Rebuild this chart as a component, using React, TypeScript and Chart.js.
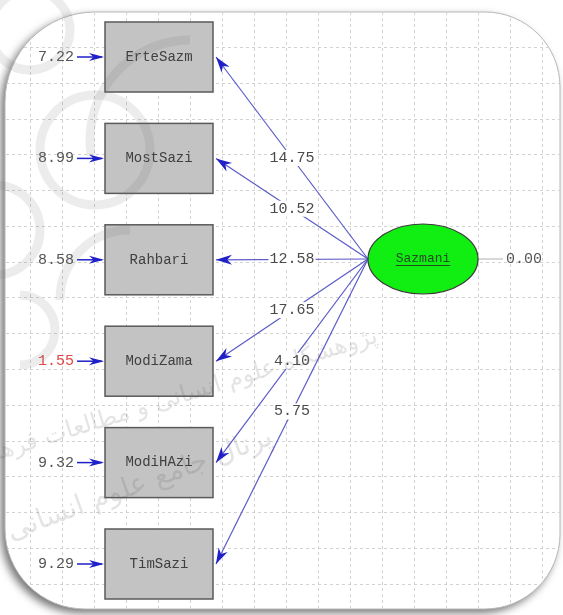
import React, { useEffect, useRef } from "react";
import { Chart, registerables } from "chart.js";
Chart.register(...registerables);

// ---- data ----
const indicators = ["ErteSazm", "MostSazi", "Rahbari", "ModiZama", "ModiHAzi", "TimSazi"];
const loadings = [14.75, 10.52, 12.58, 17.65, 4.1, 5.75];
const errorVariances = [7.22, 8.99, 8.58, 1.55, 9.32, 9.29];
const flaggedErrors = [false, false, false, true, false, false];
const latentName = "Sazmani";
const latentVariance = 0.0;
const gridX = [30, 62, 94, 126, 158, 190, 222, 254, 286, 318, 350, 382, 414, 446, 478, 510, 542];
const gridY = [47, 83, 119, 154, 190, 226, 262, 297, 333, 369, 405, 441, 476, 512, 548, 584];
const watermarkLines = ["پژوهشگاه علوم انسانی و مطالعات فرهنگی", "پرتال جامع علوم انسانی"];

// ---- layout ----
const W = 563;
const H = 615;
const BOX = { cx: 159, w: 108, h: 70 };
const ROW0 = 57;
const ROWSTEP = 101.4;
const ELL = { cx: 423, cy: 259, rx: 55, ry: 35 };
const TIP_X = BOX.cx + BOX.w / 2 + 3;
const rowY = (i: number) => ROW0 + i * ROWSTEP;
const MONO = "'Liberation Mono', 'DejaVu Sans Mono', monospace";

function arrowHead(ctx: CanvasRenderingContext2D, fx: number, fy: number, tx: number, ty: number, len: number, hw: number, color: string) {
  const a = Math.atan2(ty - fy, tx - fx);
  const cx = Math.cos(a), sy = Math.sin(a);
  const bx = tx - len * cx, by = ty - len * sy;
  const mx = tx - len * 0.7 * cx, my = ty - len * 0.7 * sy;
  ctx.save();
  ctx.fillStyle = color;
  ctx.beginPath();
  ctx.moveTo(tx, ty);
  ctx.lineTo(bx - hw * sy, by + hw * cx);
  ctx.lineTo(mx, my);
  ctx.lineTo(bx + hw * sy, by - hw * cx);
  ctx.closePath();
  ctx.fill();
  ctx.restore();
}

function framePath(ctx: CanvasRenderingContext2D, X: (v: number) => number, Y: (v: number) => number) {
  const x0 = X(5), y0 = Y(12), x1 = X(560), y1 = Y(609);
  ctx.beginPath();
  (ctx as any).roundRect(x0, y0, x1 - x0, y1 - y0, [90, 75, 75, 80]);
}

const diagramPlugin = {
  id: "diagram",
  beforeDatasetsDraw(chart: any) {
    const ctx: CanvasRenderingContext2D = chart.ctx;
    const X = (v: number) => chart.scales.x.getPixelForValue(v);
    const Y = (v: number) => chart.scales.y.getPixelForValue(v);
    ctx.save();
    ctx.fillStyle = "#ffffff";
    ctx.fillRect(0, 0, chart.width, chart.height);
    // frame with shadow
    ctx.save();
    ctx.shadowColor = "rgba(0,0,0,0.55)";
    ctx.shadowBlur = 8;
    ctx.shadowOffsetX = -4;
    ctx.shadowOffsetY = 4;
    framePath(ctx, X, Y);
    ctx.fillStyle = "#ffffff";
    ctx.fill();
    ctx.restore();
    ctx.strokeStyle = "#b8b8b8";
    ctx.lineWidth = 1;
    framePath(ctx, X, Y);
    ctx.stroke();
    // grid clipped to frame
    ctx.save();
    framePath(ctx, X, Y);
    ctx.clip();
    ctx.strokeStyle = "#d2d2d2";
    ctx.lineWidth = 1;
    ctx.setLineDash([3, 3]);
    gridX.forEach((g) => {
      ctx.beginPath();
      ctx.moveTo(Math.round(X(g)) + 0.5, Y(0));
      ctx.lineTo(Math.round(X(g)) + 0.5, Y(H));
      ctx.stroke();
    });
    gridY.forEach((g) => {
      ctx.beginPath();
      ctx.moveTo(X(0), Math.round(Y(g)) + 0.5);
      ctx.lineTo(X(W), Math.round(Y(g)) + 0.5);
      ctx.stroke();
    });
    ctx.setLineDash([]);
    ctx.restore();
    ctx.restore();
  },
  afterDatasetsDraw(chart: any) {
    const ctx: CanvasRenderingContext2D = chart.ctx;
    const X = (v: number) => chart.scales.x.getPixelForValue(v);
    const Y = (v: number) => chart.scales.y.getPixelForValue(v);
    ctx.save();
    ctx.textBaseline = "middle";
    // boxes
    indicators.forEach((name, i) => {
      const y = rowY(i);
      const x0 = X(BOX.cx - BOX.w / 2), y0 = Y(y - BOX.h / 2);
      const w = X(BOX.cx + BOX.w / 2) - x0, h = Y(y + BOX.h / 2) - y0;
      ctx.fillStyle = "#c3c3c3";
      ctx.fillRect(x0, y0, w, h);
      ctx.strokeStyle = "#5a5a5a";
      ctx.lineWidth = 1.5;
      ctx.strokeRect(x0, y0, w, h);
      ctx.fillStyle = "#404040";
      ctx.font = `14px ${MONO}`;
      ctx.textAlign = "center";
      ctx.fillText(name, X(BOX.cx), Y(y));
      // error variance + arrow head
      arrowHead(ctx, X(76), Y(y), X(BOX.cx - BOX.w / 2 - 1), Y(y), 15, 4, "#2020c8");
      ctx.fillStyle = flaggedErrors[i] ? "#e04848" : "#555555";
      ctx.textAlign = "right";
      ctx.font = `15px ${MONO}`;
      ctx.fillText(errorVariances[i].toFixed(2), X(74), Y(y));
    });
    // loadings: arrowheads and labels
    indicators.forEach((_, i) => {
      const sx = ELL.cx - ELL.rx, sy = ELL.cy;
      const tx = TIP_X, ty = rowY(i);
      arrowHead(ctx, X(sx), Y(sy), X(tx), Y(ty), 16, 5, "#2020c8");
      const mx = (sx + tx) / 2, my = (sy + ty) / 2;
      const txt = loadings[i].toFixed(2);
      ctx.font = `15px ${MONO}`;
      const tw = ctx.measureText(txt).width;
      ctx.fillStyle = "#ffffff";
      ctx.fillRect(X(mx) - tw / 2 - 1, Y(my) - 8, tw + 2, 16);
      ctx.fillStyle = "#4a4a4a";
      ctx.textAlign = "center";
      ctx.fillText(txt, X(mx), Y(my));
    });
    // latent ellipse
    ctx.beginPath();
    ctx.ellipse(X(ELL.cx), Y(ELL.cy), X(ELL.cx + ELL.rx) - X(ELL.cx), Y(ELL.cy + ELL.ry) - Y(ELL.cy), 0, 0, Math.PI * 2);
    ctx.fillStyle = "#11ee11";
    ctx.fill();
    ctx.strokeStyle = "#3a3a3a";
    ctx.lineWidth = 1.2;
    ctx.stroke();
    ctx.fillStyle = "#244a24";
    ctx.textAlign = "center";
    ctx.font = `13px ${MONO}`;
    ctx.fillText(latentName, X(ELL.cx), Y(ELL.cy));
    const lw = ctx.measureText(latentName).width;
    ctx.fillRect(X(ELL.cx) - lw / 2, Y(ELL.cy) + 6, lw, 1);
    ctx.fillStyle = "#555555";
    ctx.textAlign = "left";
    ctx.font = `15px ${MONO}`;
    ctx.fillText(latentVariance.toFixed(2), X(506), Y(ELL.cy));
    // watermark (very faint)
    ctx.strokeStyle = "rgba(110,110,110,0.13)";
    ctx.lineWidth = 9;
    const arcs: [number, number, number, number, number][] = [
      [30, 30, 40, 0, Math.PI * 2],
      [190, 140, 100, Math.PI * 0.95, Math.PI * 1.5],
      [95, 150, 55, 0, Math.PI * 2],
      [-5, 230, 45, -Math.PI * 0.5, Math.PI * 0.5],
      [130, 300, 70, Math.PI * 1.0, Math.PI * 1.5],
      [20, 330, 35, -Math.PI * 0.5, Math.PI * 0.5],
    ];
    arcs.forEach(([cx, cy, r, a0, a1]) => {
      ctx.beginPath();
      ctx.arc(X(cx), Y(cy), r, a0, a1);
      ctx.stroke();
    });
    ctx.fillStyle = "rgba(90,90,90,0.16)";
    ctx.textAlign = "center";
    ctx.save();
    ctx.translate(X(170), Y(400));
    ctx.rotate(-0.3);
    ctx.font = "24px 'DejaVu Sans', 'Noto Sans', sans-serif";
    ctx.fillText(watermarkLines[0], 0, 0);
    ctx.restore();
    ctx.save();
    ctx.translate(X(140), Y(485));
    ctx.rotate(-0.35);
    ctx.font = "28px 'DejaVu Sans', 'Noto Sans', sans-serif";
    ctx.fillText(watermarkLines[1], 0, 0);
    ctx.restore();
    ctx.restore();
  },
};

export default function App() {
  const ref = useRef<HTMLCanvasElement | null>(null);
  useEffect(() => {
    document.body.style.margin = "0";
    if (!ref.current) return;
    const pathSets = indicators.map((_, i) => ({
      type: "line" as const,
      data: [
        { x: ELL.cx - ELL.rx, y: ELL.cy },
        { x: TIP_X, y: rowY(i) },
      ],
      borderColor: "#5a5ac8",
      borderWidth: 1.2,
      pointRadius: 0,
      fill: false,
    }));
    const errSets = indicators.map((_, i) => ({
      type: "line" as const,
      data: [
        { x: 77, y: rowY(i) },
        { x: BOX.cx - BOX.w / 2 - 3, y: rowY(i) },
      ],
      borderColor: "#2020c8",
      borderWidth: 1.5,
      pointRadius: 0,
      fill: false,
    }));
    const latentErr = {
      type: "line" as const,
      data: [
        { x: ELL.cx + ELL.rx, y: ELL.cy },
        { x: 503, y: ELL.cy },
      ],
      borderColor: "#b0b0b0",
      borderWidth: 1,
      pointRadius: 0,
      fill: false,
    };
    const chart = new Chart(ref.current, {
      type: "scatter",
      data: { datasets: [...pathSets, ...errSets, latentErr] as any },
      options: {
        animation: false,
        responsive: false,
        layout: { padding: 0 },
        plugins: { legend: { display: false }, tooltip: { enabled: false } },
        scales: {
          x: { type: "linear", min: 0, max: W, display: false },
          y: { type: "linear", min: 0, max: H, reverse: true, display: false },
        },
      },
      plugins: [diagramPlugin],
    });
    return () => chart.destroy();
  }, []);
  return (
    <div style={{ width: W, height: H }}>
      <canvas ref={ref} width={W} height={H} style={{ width: W, height: H, display: "block" }} />
    </div>
  );
}
